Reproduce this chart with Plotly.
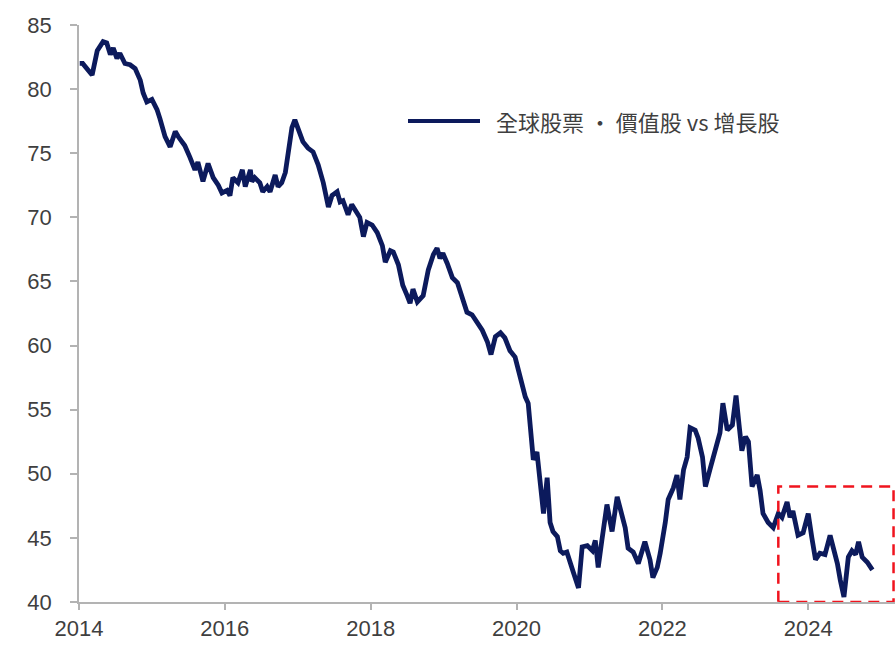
import plotly.graph_objects as go

# Global equities: value vs growth relative index (weekly, decimal years)
years = [
    2014.01, 2014.05, 2014.18, 2014.25, 2014.33, 2014.38, 2014.43, 2014.47, 2014.52, 2014.56,
    2014.63, 2014.70, 2014.77, 2014.84, 2014.88, 2014.93, 2015.00, 2015.07, 2015.11, 2015.18,
    2015.25, 2015.32, 2015.36, 2015.45, 2015.52, 2015.59, 2015.63, 2015.70, 2015.77, 2015.84,
    2015.91, 2015.96, 2016.03, 2016.07, 2016.11, 2016.18, 2016.24, 2016.28, 2016.35, 2016.37,
    2016.41, 2016.48, 2016.52, 2016.58, 2016.62, 2016.69, 2016.73, 2016.78, 2016.83, 2016.87,
    2016.92, 2016.96, 2017.00, 2017.07, 2017.14, 2017.21, 2017.28, 2017.35, 2017.42, 2017.47,
    2017.54, 2017.58, 2017.62, 2017.69, 2017.74, 2017.81, 2017.85, 2017.90, 2017.95, 2018.02,
    2018.09, 2018.16, 2018.20, 2018.27, 2018.31, 2018.38, 2018.44, 2018.50, 2018.54, 2018.58,
    2018.64, 2018.72, 2018.79, 2018.86, 2018.91, 2018.95, 2018.99, 2019.05, 2019.12, 2019.19,
    2019.25, 2019.32, 2019.39, 2019.46, 2019.53, 2019.60, 2019.65, 2019.71, 2019.78, 2019.84,
    2019.91, 2019.98, 2020.05, 2020.12, 2020.16, 2020.21, 2020.23, 2020.28, 2020.32, 2020.37,
    2020.42, 2020.46, 2020.50, 2020.56, 2020.60, 2020.64, 2020.69, 2020.74, 2020.78, 2020.85,
    2020.90, 2020.97, 2021.04, 2021.08, 2021.12, 2021.17, 2021.24, 2021.28, 2021.31, 2021.38,
    2021.42, 2021.49, 2021.53, 2021.60, 2021.67, 2021.72, 2021.76, 2021.83, 2021.87, 2021.93,
    2021.97, 2022.04, 2022.08, 2022.15, 2022.20, 2022.24, 2022.29, 2022.34, 2022.38, 2022.45,
    2022.49, 2022.55, 2022.59, 2022.66, 2022.72, 2022.79, 2022.83, 2022.89, 2022.96, 2023.01,
    2023.05, 2023.09, 2023.14, 2023.18, 2023.23, 2023.30, 2023.34, 2023.38, 2023.45, 2023.52,
    2023.59, 2023.64, 2023.71, 2023.75, 2023.79, 2023.86, 2023.93, 2024.00, 2024.05, 2024.10,
    2024.16, 2024.23, 2024.30, 2024.34, 2024.40, 2024.44, 2024.49, 2024.55, 2024.60, 2024.65,
    2024.69, 2024.74, 2024.81, 2024.88,
]
ratio = [
    82.0, 82.0, 81.1, 83.0, 83.7, 83.6, 82.7, 83.2, 82.4, 82.8,
    82.0, 81.9, 81.6, 80.7, 79.7, 79.0, 79.2, 78.4, 77.7, 76.3,
    75.5, 76.7, 76.3, 75.6, 74.7, 73.7, 74.3, 72.8, 74.2, 73.1,
    72.5, 71.9, 72.1, 71.7, 73.1, 72.7, 73.7, 72.4, 73.7, 72.8,
    73.1, 72.7, 72.0, 72.4, 72.0, 73.3, 72.4, 72.7, 73.5, 75.4,
    77.0, 77.6, 77.0, 75.9, 75.4, 75.1, 74.1, 72.7, 70.8, 71.7,
    72.0, 71.2, 71.3, 70.2, 71.0, 70.4, 70.0, 68.5, 69.6, 69.4,
    68.8, 67.8, 66.5, 67.4, 67.3, 66.3, 64.7, 63.9, 63.3, 64.4,
    63.4, 63.9, 65.9, 67.1, 67.6, 66.8, 67.2, 66.4, 65.3, 64.9,
    63.9, 62.6, 62.4, 61.8, 61.2, 60.3, 59.3, 60.7, 61.0, 60.6,
    59.6, 59.1, 57.5, 56.0, 55.5, 52.9, 51.1, 51.7, 49.3, 46.9,
    49.7, 46.2, 45.5, 45.1, 44.0, 43.8, 43.9, 42.9, 42.3, 41.1,
    44.3, 44.4, 44.0, 44.8, 42.7, 44.8, 47.6, 46.4, 45.5, 48.2,
    47.4, 45.8, 44.2, 43.9, 43.0, 43.8, 44.7, 43.3, 41.9, 42.7,
    43.8, 46.2, 48.0, 48.9, 49.9, 48.0, 50.3, 51.3, 53.6, 53.4,
    52.8, 51.3, 49.0, 50.5, 51.7, 53.2, 55.5, 53.4, 53.8, 56.1,
    53.9, 51.8, 52.9, 52.5, 49.0, 49.9, 48.7, 46.9, 46.2, 45.8,
    46.9, 46.6, 47.8, 46.6, 47.1, 45.2, 45.4, 46.9, 45.0, 43.3,
    43.8, 43.7, 45.2, 44.3, 43.0, 41.7, 40.4, 43.5, 44.0, 43.7,
    44.7, 43.5, 43.1, 42.5,
]
series_name = "全球股票 · 價值股 vs 增長股"

x_ticks = [2014, 2016, 2018, 2020, 2022, 2024]
y_ticks = [40, 45, 50, 55, 60, 65, 70, 75, 80, 85]

# highlighted recent window
box_x = [2023.59, 2025.17]
box_y = [40, 49.0]

LINE = "#0c1a5c"
AXIS = "#b3b3b3"
TEXT = "#3f3f3f"
FONT = "Liberation Sans, Arial, sans-serif"

fig = go.Figure()
fig.add_trace(go.Scatter(
    x=years, y=ratio, mode="lines", name=series_name,
    line=dict(color=LINE, width=4.8, shape="linear"),
    showlegend=False,
))

# dashed highlight box
fig.add_shape(
    type="rect", xref="x", yref="y",
    x0=box_x[0], x1=box_x[1], y0=box_y[0], y1=box_y[1],
    line=dict(color="#f0141e", width=2.5, dash="11px,7px"),
    fillcolor="rgba(0,0,0,0)", layer="above",
)

# legend key drawn in paper space
fig.add_shape(
    type="line", xref="paper", yref="paper",
    x0=(408 - 79) / 816, x1=(480 - 79) / 816,
    y0=(602 - 121) / 577, y1=(602 - 121) / 577,
    line=dict(color=LINE, width=4),
)
fig.add_annotation(
    xref="paper", yref="paper",
    x=(494 - 79) / 816, y=(602 - 121) / 577,
    xanchor="left", yanchor="middle", showarrow=False,
    text=series_name,
    font=dict(family="Noto Sans CJK TC, " + FONT, size=22, color=TEXT),
)

fig.update_layout(
    width=895, height=646,
    margin=dict(l=79, r=0, t=25, b=44),
    paper_bgcolor="white", plot_bgcolor="white",
    font=dict(family=FONT, color=TEXT, size=22),
)
fig.update_xaxes(
    range=[2014, 2025.19],
    tickmode="array", tickvals=x_ticks, ticktext=[str(v) for v in x_ticks],
    showgrid=False, zeroline=False,
    showline=True, linecolor=AXIS, linewidth=1.5,
    ticks="outside", ticklen=6, tickcolor=AXIS, tickwidth=1.5,
    tickfont=dict(family=FONT, size=22, color=TEXT),
)
fig.update_yaxes(
    range=[40, 85],
    tickmode="array", tickvals=y_ticks, ticktext=[str(v) for v in y_ticks],
    showgrid=False, zeroline=False,
    showline=True, linecolor=AXIS, linewidth=1.5,
    ticks="outside", ticklen=7, tickcolor=AXIS, tickwidth=1.5,
    ticklabelstandoff=14,
    tickfont=dict(family=FONT, size=22, color=TEXT),
)

fig.write_html("out.html")
